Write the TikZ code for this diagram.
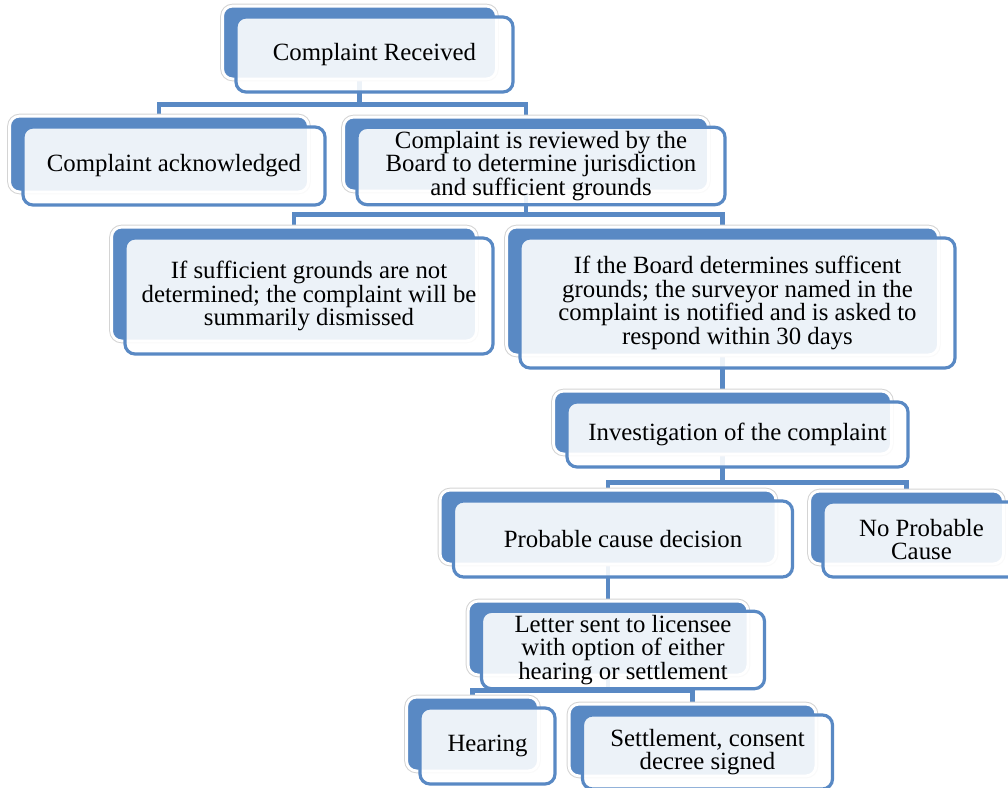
\documentclass[tikz,border=0pt]{standalone}
\usepackage{fontspec}
\setmainfont{Liberation Serif}
\pgfdeclarelayer{background}
\pgfsetlayers{background,main}

\definecolor{boxblue}{RGB}{89,137,196}
\definecolor{halo}{RGB}{212,212,212}
\tikzset{
  backbox/.style={rectangle, rounded corners=5pt, fill=boxblue, draw=white, line width=1.4pt,
    preaction={draw=halo, line width=2.4pt}, inner sep=0pt},
  frontbox/.style={rectangle, rounded corners=5pt, draw=boxblue, line width=1.6pt,
    fill=white, fill opacity=0.89, text opacity=1, align=center, inner sep=2pt,
    font=\fontsize{12.4}{11.7}\selectfont},
  link/.style={draw=boxblue, line width=2.4pt}
}

\begin{document}
\begin{tikzpicture}[x=0.5pt, y=-0.5pt]
    \useasboundingbox (0,0) rectangle (1008,788);
    % boxes: front centre / size, the blue back box sits up and to the left
    \foreach \n/\x/\y/\w/\h/\t in {
        recv/374.5/54.5/277/75/{Complaint Received},
        ack/174/166/302/78/{Complaint acknowledged},
        review/541/166/368/76/{Complaint is reviewed by the\\Board to determine jurisdiction\\and sufficient grounds},
        notsuff/309/296/368/116/{If sufficient grounds are not\\determined; the complaint will be\\summarily dismissed},
        suff/737.5/303/435/130/{If the Board determines sufficent\\grounds; the surveyor named in the\\complaint is notified and is asked to\\respond within 30 days},
        invest/737.5/434.5/341/65/{Investigation of the complaint},
        probable/623/539/339/76/{Probable cause decision},
        noprob/921.5/539.5/197/75/{No Probable\\Cause},
        letter/623/650/283/76/{Letter sent to licensee\\with option of either\\hearing or settlement},
        hearing/487.5/746/135/76/{Hearing},
        settle/707.5/752/250/74/{Settlement, consent\\decree signed}} {
            \node[backbox, minimum width=\w*0.5pt-1.6pt, minimum height=\h*0.5pt-1.1pt] (\n) at ([xshift=-7.5pt,yshift=6pt]\x,\y) {};
            \node[frontbox, minimum width=\w*0.5pt, minimum height=\h*0.5pt] (\n-f) at (\x,\y) {\t};
        }

    % connectors run behind the boxes
    \begin{pgfonlayer}{background}
        \foreach \c in {ack,review} \draw[link] (recv.south) -- ++(0,24) -| (\c.north);
        \foreach \c in {notsuff,suff} \draw[link] (review.south) -- ++(0,22) -| (\c.north);
        \draw[link] (suff.south) -- (invest.north);
        \foreach \c in {probable,noprob} \draw[link] (invest.south) -- ++(0,27) -| (\c.north);
        \draw[link] (probable.south) -- (letter.north);
        \foreach \c in {hearing,settle} \draw[link] (letter.south) -- ++(0,14) -| (\c.north);
    \end{pgfonlayer}
\end{tikzpicture}
\end{document}
